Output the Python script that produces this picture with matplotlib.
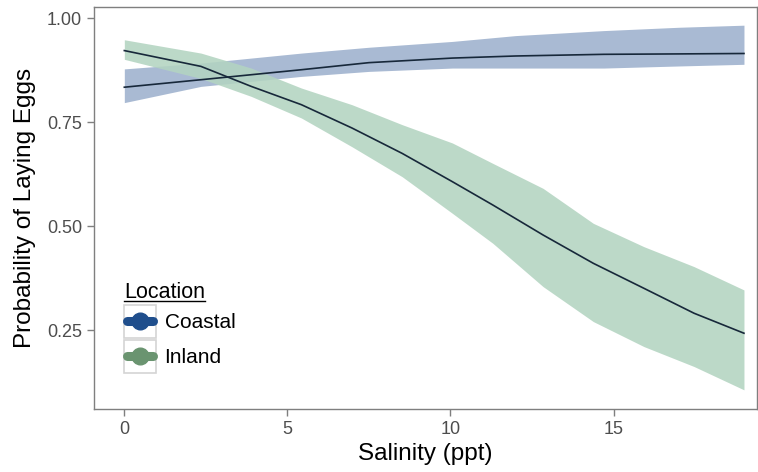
import matplotlib
matplotlib.use('Agg')
import matplotlib.pyplot as plt
from matplotlib.lines import Line2D
from matplotlib.patches import Rectangle

plt.rcParams['font.family'] = ['Liberation Sans', 'DejaVu Sans']

# Coastal fit and 95% band
coastal_x = [0, 2.35, 5.43, 7.5, 10.06, 12, 14.7, 17, 19]
coastal_fit = [0.834, 0.852, 0.876, 0.893, 0.904, 0.909, 0.913, 0.914, 0.915]
coastal_lo = [0.797, 0.836, 0.860, 0.872, 0.880, 0.880, 0.880, 0.885, 0.889]
coastal_hi = [0.878, 0.892, 0.916, 0.930, 0.944, 0.958, 0.970, 0.978, 0.983]

# Inland fit and 95% band
inland_x = [0, 2.35, 3.89, 5.43, 6.98, 8.52, 10.06, 11.3, 12.84, 14.38, 15.93, 17.47, 19]
inland_fit = [0.922, 0.884, 0.836, 0.792, 0.736, 0.675, 0.607, 0.551, 0.479, 0.411, 0.351, 0.291, 0.243]
inland_lo = [0.901, 0.855, 0.812, 0.760, 0.691, 0.619, 0.531, 0.459, 0.355, 0.271, 0.211, 0.163, 0.107]
inland_hi = [0.948, 0.916, 0.880, 0.832, 0.792, 0.744, 0.700, 0.651, 0.591, 0.507, 0.451, 0.403, 0.347]

locations = ['Coastal', 'Inland']
key_colors = ['#1f4e8c', '#6a9470']
band_colors = ['#a9bad3', '#b3d4c1']
line_color = '#17283a'
grey = '#7f7f7f'


class KeyHandler:
    # grey-framed box with a fat line + dot, like the ggplot key
    def legend_artist(self, legend, orig_handle, fontsize, handlebox):
        x0, y0 = -handlebox.xdescent, -handlebox.ydescent
        w, h = handlebox.width, handlebox.height
        tr = handlebox.get_transform()
        c = orig_handle.get_color()
        box = Rectangle((x0, y0), w, h, facecolor='white', edgecolor='#d4d4d4',
                        lw=1.2, transform=tr)
        yc = y0 + h / 2
        bar = Line2D([x0 + 0.1 * w, x0 + 0.9 * w], [yc, yc], color=c, lw=6.5,
                     solid_capstyle='round', transform=tr)
        dot = Line2D([x0 + w / 2], [yc], color=c, marker='o', markersize=12,
                     lw=0, transform=tr)
        for a in (box, bar, dot):
            handlebox.add_artist(a)
        return box


fig = plt.figure(figsize=(7.58, 4.72), dpi=100)
ax = fig.add_axes([0.124, 0.1335, 0.8747, 0.8515])

ax.fill_between(coastal_x, coastal_lo, coastal_hi, color=band_colors[0], lw=0)
ax.fill_between(inland_x, inland_lo, inland_hi, color=band_colors[1], lw=0, alpha=0.88)
ax.plot(coastal_x, coastal_fit, color=line_color, lw=1.2)
ax.plot(inland_x, inland_fit, color=line_color, lw=1.2)

ax.set_xlim(-0.93, 19.4)
ax.set_ylim(0.061, 1.0265)
ax.set_xticks([0, 5, 10, 15])
ax.set_yticks([0.25, 0.5, 0.75, 1.0])
ax.set_yticklabels(['0.25', '0.50', '0.75', '1.00'])
ax.tick_params(colors=grey, labelcolor='#4d4d4d', labelsize=13, length=5, width=1)
for sp in ax.spines.values():
    sp.set_color(grey)
    sp.set_linewidth(1)

ax.set_xlabel('Salinity (ppt)', fontsize=17.5, labelpad=4)
ax.set_ylabel('Probability of Laying Eggs', fontsize=17.5, labelpad=8)

handles = [Line2D([], [], color=c) for c in key_colors]
leg = ax.legend(handles, locations, title='Location', loc='upper left',
                bbox_to_anchor=(0.030, 0.343), frameon=False, fontsize=15,
                title_fontsize=15.5, handlelength=1.53, handleheight=2.06,
                handletextpad=0.4, labelspacing=0.1, borderpad=0,
                alignment='left', handler_map={Line2D: KeyHandler()})

# underline the legend title
fig.canvas.draw()
bb = leg.get_title().get_window_extent().transformed(fig.transFigure.inverted())
fig.add_artist(Line2D([bb.x0, bb.x1], [bb.y0 + 0.003, bb.y0 + 0.003],
                      color='black', lw=1, transform=fig.transFigure))

fig.savefig('out.png', dpi=100)
